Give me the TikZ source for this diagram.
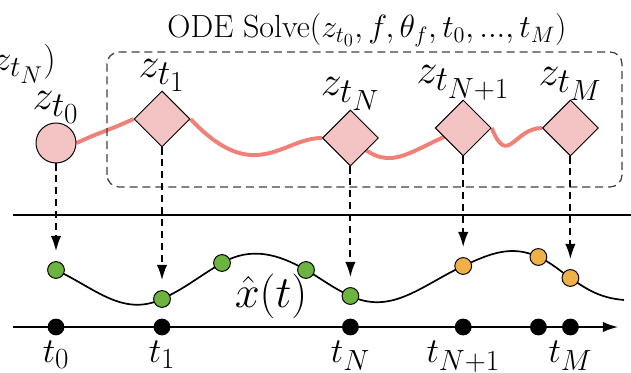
\documentclass[tikz,border=0pt]{standalone}
\usepackage{amsmath}
\usetikzlibrary{positioning, arrows.meta, shapes.geometric, backgrounds}

\definecolor{statefill}{RGB}{244,196,196}
\definecolor{trajred}{RGB}{240,128,120}
\definecolor{obsgreen}{RGB}{108,179,63}
\definecolor{predorange}{RGB}{240,176,72}

\newcommand{\zlabel}[1]{\scalebox{1.2}{$#1$}}

\begin{document}
\begin{tikzpicture}[
  >={Latex[length=3.8mm,width=2.6mm]},
  font=\huge,
  zstate/.style={diamond, draw, line width=0.7pt, fill=statefill,
    minimum size=1.4cm, inner sep=0pt},
  zinit/.style={circle, draw, line width=0.7pt, fill=statefill,
    minimum size=1cm, inner sep=0pt},
  obs/.style={circle, draw, line width=0.7pt, fill=obsgreen,
    minimum size=0.42cm, inner sep=0pt},
  pred/.style={obs, fill=predorange},
  tdot/.style={circle, fill=black, minimum size=0.42cm, inner sep=0pt},
  drop/.style={->, line width=1.3pt, dash pattern=on 5pt off 3.5pt,
    shorten >=0.25cm},
  trajline/.style={line width=2.8pt, trajred},
  xcurve/.style={line width=1.2pt},
  zlab/.style={font=\Huge, label distance=-4pt},
  tlab/.style={font=\Huge},
]

\useasboundingbox (0,0) rectangle (15.775,9.3);
\clip (0,0) rectangle (15.775,9.3);

% --- ODE solver box ---
\draw[black!75, line width=0.9pt, dash pattern=on 5.7pt off 3.5pt,
  rounded corners=0.3cm] (2.675,4.625) rectangle (15.55,8.0);
\node (odetitle) at (9.175,8.55)
  {\scalebox{1.1}{ODE Solve$(z_{t_0}, f, \theta_f, t_0, ..., t_M)$}};
\node[tlab, inner sep=0pt, anchor=east] (zprev) at (1.4,7.7)
  {$z_{t_N})$};

% --- Latent states ---
\node[zinit, label={[zlab]above:\zlabel{z_{t_0}}}] (z0) at (1.4,5.725) {};
\node[zstate, label={[zlab]above:\zlabel{z_{t_1}}}] (z1) at (4.05,6.325) {};
\node[zstate, label={[zlab]above:\zlabel{z_{t_N}}}] (zN) at (8.76,5.85) {};
\node[zstate, label={[zlab]above:\zlabel{z_{t_{N+1}}}}] (zN1) at (11.58,6.1) {};
\node[zstate, label={[zlab]above:\zlabel{z_{t_M}}}] (zM) at (14.26,6.1) {};

% --- Observed and predicted values ---
\node[obs] (g1) at (1.4,2.55) {};
\node[obs] (g2) at (4.05,1.825) {};
\node[obs] (g3) at (5.55,2.725) {};
\node[obs] (g4) at (7.65,2.55) {};
\node[obs] (g5) at (8.76,1.9) {};
\node[pred] (o1) at (11.58,2.65) {};
\node[pred] (o2) at (13.46,2.875) {};
\node[pred] (o3) at (14.26,2.35) {};
\coordinate (xend) at (15.6,1.8);
\node[font=\Huge] (xlabel) at (6.775,1.9) {\scalebox{1.28}{$\hat{x}(t)$}};

% --- Time axis ---
\coordinate (axstart) at (0.325,1.125);
\coordinate (axend) at (15.45,1.125);
\coordinate (sepL) at (0.325,3.925);
\coordinate (sepR) at (15.775,3.925);
\draw[xcurve, ->] (axstart) -- (axend);
\draw[xcurve] (sepL) -- (sepR);
\node[tdot, label={[tlab]below:$t_0$}] (d0) at (1.4,1.125) {};
\node[tdot, label={[tlab]below:$t_1$}] (d1) at (4.05,1.125) {};
\node[tdot, label={[tlab]below:$t_N$}] (dN) at (8.76,1.125) {};
\node[tdot, label={[tlab]below:$t_{N+1}$}] (dN1) at (11.58,1.125) {};
\node[tdot] (dx) at (13.46,1.125) {};
\node[tdot, label={[tlab]below:$t_M$}] (dM) at (14.26,1.125) {};

% --- Trajectories (behind the nodes) ---
\begin{scope}[on background layer]
\draw[trajline] (z0.east) to[out=25,in=205] (z1.west);
\draw[trajline] (z1.east) .. controls +(1.6,-1.7) and +(-1.0,0) .. (zN.west);
\draw[trajline] (zN.center) .. controls +(1.0,-0.9) and +(-1.6,-0.7) .. (zN1.center);
\draw[trajline] (zN1.east) .. controls +(0.4,-1.0) and +(-0.7,0) .. (zM.west);
\draw[xcurve] (g1.center) to[out=-25,in=205] (g2.center)
  to[out=25,in=210] (g3.center) to[out=30,in=150] (g4.center)
  to[out=-30,in=155] (g5.center) to[out=-25,in=205] (o1.center)
  to[out=25,in=155] (o2.center) to[out=-25,in=145] (o3.center)
  to[out=-35,in=175] (xend);
\end{scope}

% --- Decoding arrows ---
\draw[drop] (z0.south) -- (g1.north);
\draw[drop] (z1.south) -- (g2.north);
\draw[drop] (zN.south) -- (g5.north);
\draw[drop] (zN1.south) -- (o1.north);
\draw[drop] (zM.south) -- (o3.north);

\end{tikzpicture}
\end{document}
